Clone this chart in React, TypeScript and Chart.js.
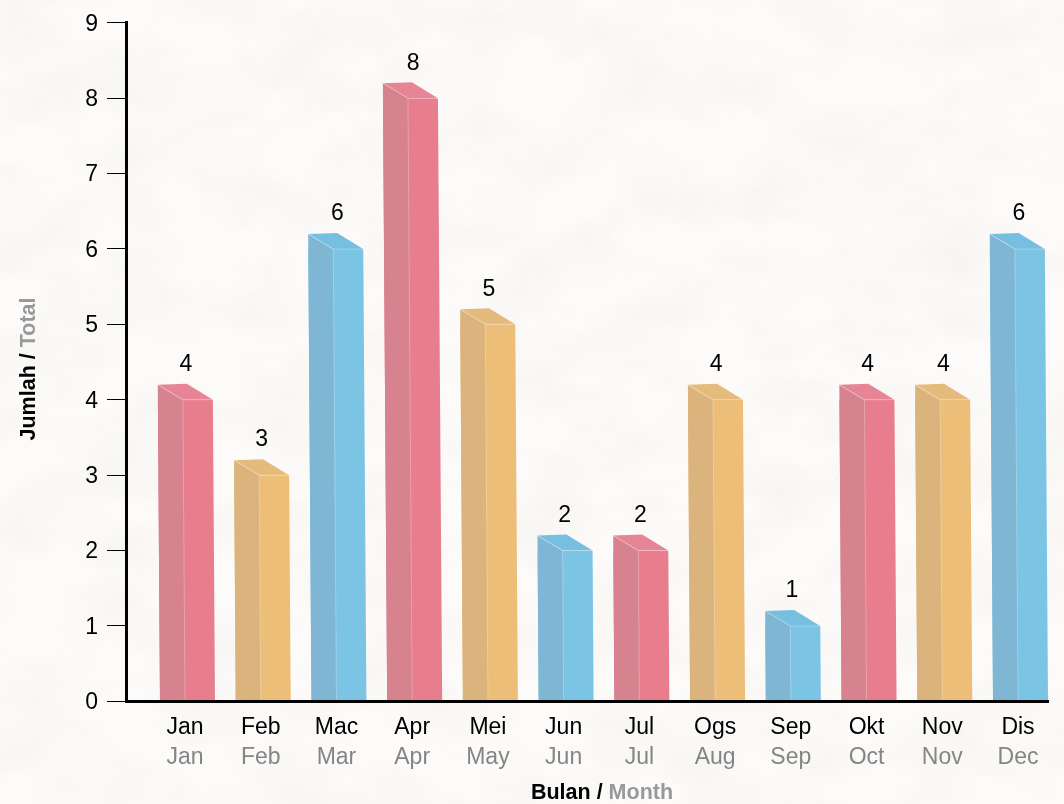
import React, { useEffect, useRef } from "react";
import { Chart, registerables } from "chart.js";

Chart.register(...registerables);

const malayMonths = ["Jan", "Feb", "Mac", "Apr", "Mei", "Jun", "Jul", "Ogs", "Sep", "Okt", "Nov", "Dis"];
const englishMonths = ["Jan", "Feb", "Mar", "Apr", "May", "Jun", "Jul", "Aug", "Sep", "Oct", "Nov", "Dec"];
const totals = [4, 3, 6, 8, 5, 2, 2, 4, 1, 4, 4, 6];
const colourKeys = ["red", "orange", "blue", "red", "orange", "blue", "red", "orange", "blue", "red", "orange", "blue"];
const frontColours: Record<string, string> = { red: "#e77d8d", orange: "#ecbe78", blue: "#7cc4e4" };
const sideColours: Record<string, string> = { red: "#d6828f", orange: "#dab47c", blue: "#7fb6d4" };
const topColours: Record<string, string> = { red: "#e58595", orange: "#e4bb7d", blue: "#77bfe0" };

const FONT = '"Liberation Sans", Arial, sans-serif';
const SKEW = 0.007;
const DEPTH = 15;
const SIDE_W = 25;
const BAR_SHIFT = 2.5;

const paper =
  "data:image/svg+xml;utf8," +
  encodeURIComponent(
    `<svg xmlns="http://www.w3.org/2000/svg" width="1064" height="804"><filter id="p" x="0" y="0" width="100%" height="100%"><feTurbulence type="fractalNoise" baseFrequency="0.012 0.018" numOctaves="6" seed="11"/><feColorMatrix values="0 0 0 0 0.78  0 0 0 0 0.77  0 0 0 0 0.73  1.6 0 0 0 -0.6"/></filter><rect width="1064" height="804" filter="url(#p)" opacity="0.28"/></svg>`
  );

const bar3d = {
  id: "bar3d",
  beforeDatasetsDraw(chart: any) {
    const ctx = chart.ctx;
    const bottom = chart.scales.y.getPixelForValue(0);
    ctx.save();
    ctx.transform(1, 0, SKEW, 1, BAR_SHIFT - SKEW * bottom, 0);
  },
  afterDatasetsDraw(chart: any) {
    const ctx = chart.ctx;
    chart.getDatasetMeta(0).data.forEach((el: any, i: number) => {
      const key = colourKeys[i];
      const { x, y, base, width } = el.getProps(["x", "y", "base", "width"], true);
      const L = x - width / 2;
      const R = x + width / 2;
      const S = L + SIDE_W;
      ctx.fillStyle = sideColours[key];
      ctx.beginPath();
      ctx.moveTo(L, base);
      ctx.lineTo(S, base);
      ctx.lineTo(S, y);
      ctx.lineTo(L, y - DEPTH);
      ctx.closePath();
      ctx.fill();
      ctx.fillStyle = topColours[key];
      ctx.beginPath();
      ctx.moveTo(L, y - DEPTH);
      ctx.lineTo(L + 29, y - DEPTH - 1);
      ctx.lineTo(R, y);
      ctx.lineTo(S, y);
      ctx.closePath();
      ctx.fill();
      ctx.strokeStyle = "rgba(255,255,255,0.28)";
      ctx.lineWidth = 1;
      ctx.beginPath();
      ctx.moveTo(L, y - DEPTH);
      ctx.lineTo(S, y);
      ctx.lineTo(S, base);
      ctx.moveTo(S, y);
      ctx.lineTo(R, y);
      ctx.stroke();
    });
    ctx.restore();

    ctx.save();
    ctx.font = `23px ${FONT}`;
    ctx.fillStyle = "#000";
    ctx.textAlign = "center";
    ctx.textBaseline = "middle";
    const xs = chart.scales.x;
    const ys = chart.scales.y;
    totals.forEach((v, i) => {
      ctx.fillText(String(v), xs.getPixelForValue(i) + 1, ys.getPixelForValue(v) - 35);
    });
    ctx.restore();
  },
  afterDraw(chart: any) {
    const ctx = chart.ctx;
    const xs = chart.scales.x;
    ctx.save();
    ctx.font = `23px ${FONT}`;
    ctx.fillStyle = "#858585";
    ctx.textAlign = "center";
    ctx.textBaseline = "middle";
    englishMonths.forEach((m, i) => ctx.fillText(m, xs.getPixelForValue(i), 758));

    const twoTone = (a: string, b: string, cx: number, cy: number, rot: number) => {
      ctx.save();
      ctx.translate(cx, cy);
      ctx.rotate(rot);
      ctx.font = `bold 21.5px ${FONT}`;
      ctx.textAlign = "left";
      ctx.textBaseline = "middle";
      const wa = ctx.measureText(a).width;
      const wb = ctx.measureText(b).width;
      const start = -(wa + wb) / 2;
      ctx.fillStyle = "#000";
      ctx.fillText(a, start, 0);
      ctx.fillStyle = "#999";
      ctx.fillText(b, start + wa, 0);
      ctx.restore();
    };
    twoTone("Bulan / ", "Month", 602, 793, 0);
    twoTone("Jumlah / ", "Total", 29, 369, -Math.PI / 2);
    ctx.restore();
  },
};

export default function App() {
  const ref = useRef<HTMLCanvasElement>(null);
  useEffect(() => {
    document.body.style.margin = "0";
    document.body.style.background = "#fcfbf9";
    const chart = new Chart(ref.current!, {
      type: "bar",
      data: {
        datasets: [
          {
            label: "Jumlah",
            data: totals.map((v, i) => ({ x: i, y: v })),
            backgroundColor: colourKeys.map((k) => frontColours[k]),
            borderWidth: 0,
            barPercentage: 0.726,
            categoryPercentage: 1,
            clip: false,
          } as any,
        ],
      },
      options: {
        responsive: false,
        animation: false,
        layout: { autoPadding: false, padding: { top: 19.7, right: 16, left: 0, bottom: 0 } },
        plugins: { legend: { display: false }, tooltip: { enabled: false } },
        scales: {
          x: {
            type: "linear",
            offset: false,
            min: -0.779,
            max: 11.396,
            afterBuildTicks(scale: any) {
              scale.ticks = malayMonths.map((_, i) => ({ value: i }));
            },
            afterFit(scale: any) {
              scale.height = 102.7;
            },
            grid: { display: false, offset: false },
            border: { display: true, color: "#000", width: 3, z: 1 },
            ticks: {
              autoSkip: false,
              maxRotation: 0,
              padding: 4.7,
              color: "#000",
              font: { family: FONT, size: 23 },
              callback: (v: any) => malayMonths[v],
            },
          },
          y: {
            type: "linear",
            min: 0,
            max: 9,
            afterFit(scale: any) {
              scale.width = 126;
            },
            grid: { drawOnChartArea: false, drawTicks: true, tickLength: 19, color: "#000", tickColor: "#000", lineWidth: 1 },
            border: { display: true, color: "#000", width: 3, z: 1 },
            ticks: {
              stepSize: 1,
              padding: 9,
              labelOffset: 1.5,
              color: "#000",
              font: { family: FONT, size: 23 },
            },
          },
        },
      } as any,
      plugins: [bar3d as any],
    });
    return () => chart.destroy();
  }, []);
  return (
    <div style={{ position: "absolute", left: 0, top: 0, width: 1064, height: 804, overflow: "hidden", backgroundImage: `url("${paper}")` }}>
      <canvas ref={ref} width={1064} height={804} style={{ display: "block" }} />
    </div>
  );
}
